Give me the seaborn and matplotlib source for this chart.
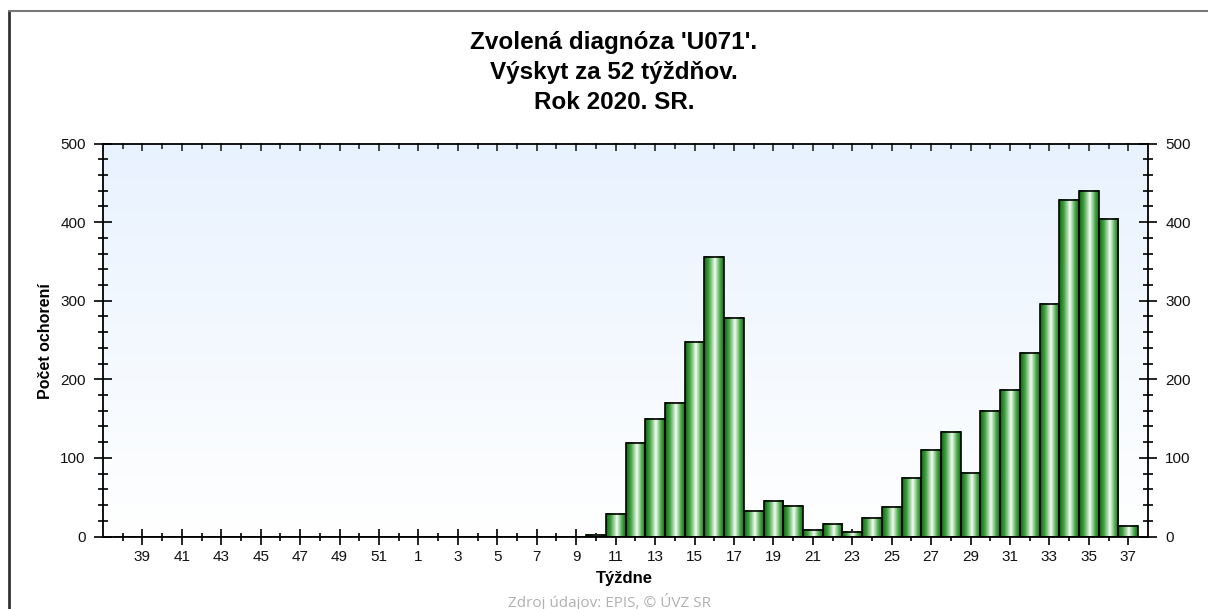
import numpy as np
import pandas as pd
import matplotlib
matplotlib.use("Agg")
import matplotlib.pyplot as plt
from matplotlib.colors import LinearSegmentedColormap
from matplotlib.lines import Line2D
from matplotlib.ticker import MultipleLocator, FixedLocator
import seaborn as sns

# weeks 38/2019 .. 37/2020
weeks = [38, 39, 40, 41, 42, 43, 44, 45, 46, 47, 48, 49, 50, 51, 52,
         1, 2, 3, 4, 5, 6, 7, 8, 9, 10, 11, 12, 13, 14, 15, 16, 17, 18, 19,
         20, 21, 22, 23, 24, 25, 26, 27, 28, 29, 30, 31, 32, 33, 34, 35, 36, 37]
cases = [0, 0, 0, 0, 0, 0, 0, 0, 0, 0, 0, 0, 0, 0, 0,
         0, 0, 0, 0, 0, 0, 0, 0, 0, 2, 29, 119, 150, 170, 248, 356, 278, 32, 45,
         39, 8, 16, 6, 24, 37, 74, 110, 133, 81, 160, 187, 234, 296, 428, 439, 404, 13]
title_lines = ["Zvolená diagnóza 'U071'.", "Výskyt za 52 týždňov.", "Rok 2020. SR."]

sns.set_style("ticks")
plt.rcParams['font.family'] = ['Liberation Sans', 'DejaVu Sans']
plt.rcParams['text.color'] = 'black'

df = pd.DataFrame({"tyzden": [str(w) for w in weeks], "pocet": cases})

fig = plt.figure(figsize=(12.08, 6.09), dpi=100)
ax = fig.add_axes([103 / 1208, 1 - 536.5 / 609, 1045 / 1208, 393 / 609])

sns.barplot(data=df, x="tyzden", y="pocet", order=df["tyzden"], width=1.0,
            color="green", edgecolor="black", linewidth=1.2, ax=ax)

# background gradient of plot area
bg_cmap = LinearSegmentedColormap.from_list("bg", ["#ffffff", "#e8f2fe"])
bg = np.linspace(1, 0, 256).reshape(-1, 1)
ax.imshow(bg, extent=[-1, 52, 0, 500], aspect="auto", cmap=bg_cmap, zorder=0)

# shaded green bars
bar_cmap = LinearSegmentedColormap.from_list(
    "bar", [(0.0, "#0b650b"), (0.25, "#45a545"), (0.55, "#f4fcf4"),
            (0.8, "#50ad50"), (1.0, "#0e6e0e")])
grad = np.linspace(0, 1, 64).reshape(1, -1)
for p in ax.patches:
    h = p.get_height()
    if h > 0:
        x0, w = p.get_x(), p.get_width()
        ax.imshow(grad, extent=[x0, x0 + w, 0, h], aspect="auto", cmap=bar_cmap, zorder=2)
    p.set_facecolor("none")
    p.set_zorder(3)

ax.set_xlim(-1, 52)
ax.set_ylim(0, 500)

ax.xaxis.set_major_locator(FixedLocator(range(1, 52, 2)))
ax.set_xticklabels([str(w) for w in weeks[1::2]])
ax.xaxis.set_minor_locator(FixedLocator(range(0, 52, 2)))
ax.yaxis.set_major_locator(MultipleLocator(100))
ax.yaxis.set_minor_locator(MultipleLocator(20))

ax.tick_params(axis="both", which="both", direction="inout", width=1.2, colors="black",
               labelcolor="#111111", labelsize=11)
ax.tick_params(axis="y", which="major", length=13, pad=6, left=True, right=True,
               labelleft=True, labelright=True)
ax.tick_params(axis="y", which="minor", length=7, left=True, right=True)
ax.tick_params(axis="x", which="major", length=11, pad=4, bottom=True, top=False)
ax.tick_params(axis="x", which="minor", length=6, bottom=True, top=False)

top = ax.secondary_xaxis("top")
top.xaxis.set_major_locator(FixedLocator(range(1, 52, 2)))
top.xaxis.set_minor_locator(FixedLocator(range(0, 52, 2)))
top.tick_params(which="major", direction="in", length=6, width=1.2, labeltop=False)
top.tick_params(which="minor", direction="in", length=4, width=1.2)
top.spines["top"].set_visible(False)

for s in ax.spines.values():
    s.set_visible(True)
    s.set_linewidth(1.3)
    s.set_color("black")

ax.set_xlabel("")
ax.set_ylabel("")

fig.text(614 / 1208, 1 - 31 / 609, "\n".join(title_lines), ha="center", va="top",
         fontsize=17.5, fontweight="bold", linespacing=1.4, color="black")
fig.text(46 / 1208, 1 - 341 / 609, "Počet ochorení", rotation=90, ha="center", va="center",
         fontsize=11.5, fontweight="bold", color="black")
fig.text(624 / 1208, 1 - 578 / 609, "Týždne", ha="center", va="center",
         fontsize=12, fontweight="bold", color="black")
fig.text(610 / 1208, 1 - 593 / 609, "Zdroj údajov: EPIS, © ÚVZ SR", ha="center", va="top",
         fontsize=11, color="#b0b0b0", family=["Open Sans", "DejaVu Sans"])

# page frame (left + top edge)
fig.add_artist(Line2D([9 / 1208, 9 / 1208], [0, 1 - 11 / 609], transform=fig.transFigure,
                      color="#333333", linewidth=2))
fig.add_artist(Line2D([9 / 1208, 1], [1 - 11 / 609, 1 - 11 / 609], transform=fig.transFigure,
                      color="#777777", linewidth=1.5))

fig.savefig("out.png", dpi=100)
